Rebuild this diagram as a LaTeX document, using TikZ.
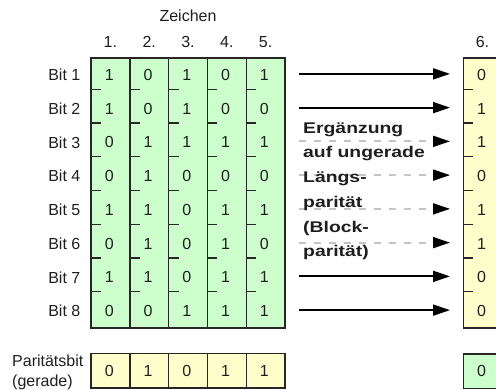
\documentclass[tikz,border=0pt]{standalone}
\usepackage{fontspec}
\setmainfont{Liberation Sans}
\newfontfamily\widebold[FakeStretch=1.25]{Liberation Sans Bold}
\usetikzlibrary{arrows.meta}

\definecolor{cellgreen}{HTML}{CCFFCC}
\definecolor{cellyellow}{HTML}{FFFFCC}
\definecolor{gridline}{HTML}{262626}
\definecolor{dashgray}{HTML}{C4C4C4}
\definecolor{ink}{HTML}{1E1E1E}

\begin{document}
\begin{tikzpicture}[x=1pt, y=-1pt,
  lbl/.style={font=\fontsize{16}{16}\selectfont, text=ink, inner sep=0pt},
  digit/.style={font=\fontsize{16}{16}\selectfont, text=ink, inner sep=0pt},
  grid/.style={draw=gridline, line width=1.4pt},
  solidarrow/.style={draw=black, line width=2pt, -{Triangle[length=17pt,width=11pt]}},
  dasharrow/.style={draw=dashgray, line width=1.8pt, dash pattern=on 7pt off 8pt,
    -{Triangle[length=17pt,width=11pt,color=black]}},
  note/.style={font=\widebold\fontsize{15.5}{24.7}\selectfont, text=ink,
    inner sep=0pt, align=left}
]
\useasboundingbox (0,0) rectangle (496,390);

% ---- data block (8 bits x 5 characters) ----
\draw[grid, fill=cellgreen] (91,58) rectangle (285,328);
\foreach \c in {1,...,4}
  \draw[grid] ({91+38.8*\c},58) -- ({91+38.8*\c},328);
\foreach \c in {0,...,4}
  \foreach \k in {1,...,7}
    \draw[grid] ({91+38.8*\c},{58+33.75*\k-2.5}) -- ++(10,0);

% ---- parity row below the block ----
\draw[grid, fill=cellyellow] (91,353.5) rectangle (285,388);
\foreach \c in {1,...,4}
  \draw[grid] ({91+38.8*\c},353.5) -- ({91+38.8*\c},388);

% ---- sixth character (block parity) ----
\draw[grid, fill=cellyellow] (463.3,58) rectangle (503,328);
\foreach \k in {1,...,7}
  \draw[grid] (463.3,{58+33.75*\k-2.5}) -- ++(10,0);
\draw[grid, fill=cellgreen] (463.3,354) rectangle (503,388.3);

% ---- headings ----
\node[lbl] (zeichen) at (188,16) {Zeichen};
\foreach \c in {1,...,5}
  \node[lbl] (head-\c) at ({91+38.8*(\c-0.5)},41.7) {\c.};
\node[lbl] (head-6) at (482.5,41.7) {6.};

% ---- row labels ----
\foreach \r in {1,...,8}
  \node[lbl, anchor=east] (bit-\r) at (80.5,{58+33.75*(\r-0.5)}) {Bit \r};
% the base anchor of a multi-line node sits on its last line
\node[lbl, anchor=base west, align=left, font=\fontsize{16}{20}\selectfont]
  (pbit) at (12,386.7) {Paritätsbit\\(gerade)};

% ---- bit values ----
\foreach \r/\vals in {1/{1,0,1,0,1}, 2/{1,0,1,0,0}, 3/{0,1,1,1,1}, 4/{0,1,0,0,0},
                      5/{1,1,0,1,1}, 6/{0,1,0,1,0}, 7/{1,1,0,1,1}, 8/{0,0,1,1,1}}{
  \foreach \v [count=\c] in \vals
    \node[digit] (b-\r-\c) at ({91+38.8*(\c-0.5)-1.2},{58+33.75*(\r-0.5)}) {\v};
}
\foreach \v [count=\c] in {0,1,0,1,1}
  \node[digit] (p-\c) at ({91+38.8*(\c-0.5)-1.2},370.7) {\v};
\foreach \v [count=\r] in {0,1,1,0,1,1,0,0}
  \node[digit] (s-\r) at (481.5,{58+33.75*(\r-0.5)}) {\v};
\node[digit] (s-p) at (481.5,371) {0};

% ---- arrows from each bit row to its parity bit ----
\foreach \r in {1,...,8} {
  \coordinate (from-\r) at (299,{58+33.75*(\r-0.5)-1});
  \coordinate (to-\r) at (450,{58+33.75*(\r-0.5)-1});
}
\foreach \r in {1,2,7,8}
  \draw[solidarrow] (from-\r) -- (to-\r);
\foreach \r in {3,...,6}
  \draw[dasharrow] (from-\r) -- (to-\r);

\node[note, anchor=base west] (rule) at (303,256.8)
  {Ergänzung\\auf ungerade\\Längs-\\parität\\(Block-\\parität)};
\end{tikzpicture}
\end{document}
